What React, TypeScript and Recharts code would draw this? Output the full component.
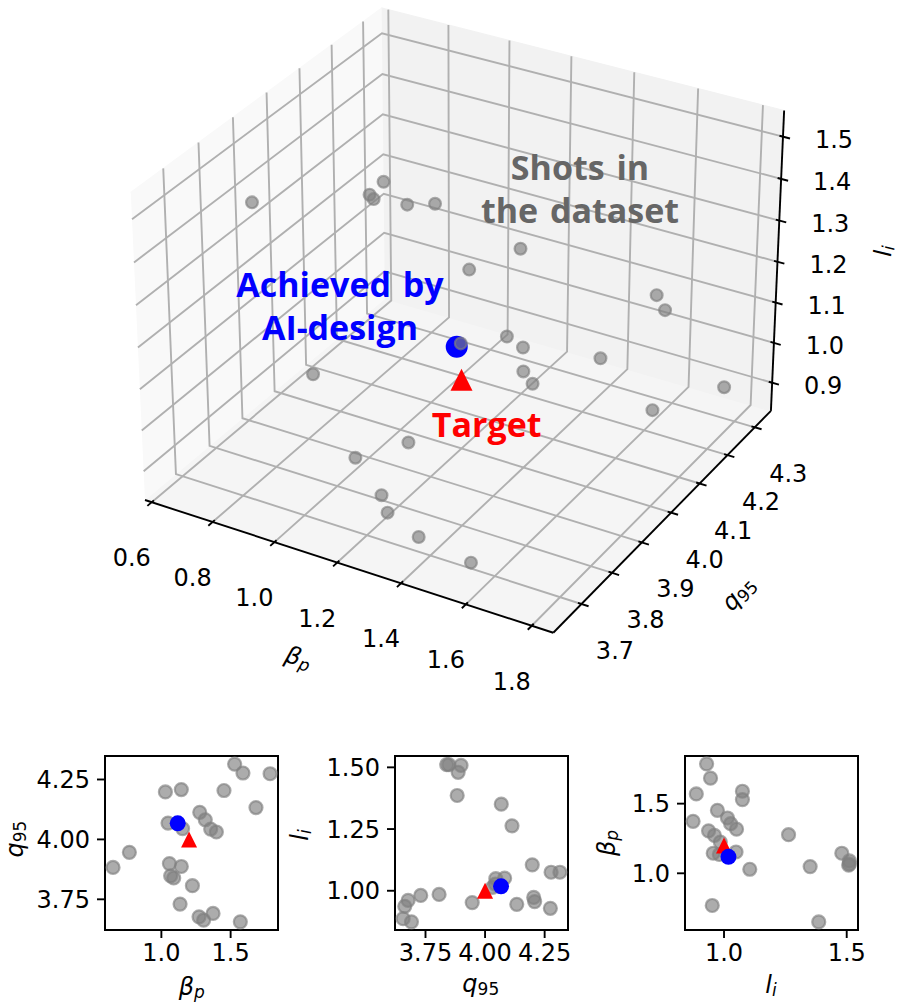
import React from 'react';
import { ScatterChart, Scatter, XAxis, YAxis, ReferenceArea } from 'recharts';

const BETA_P = [0.651, 0.769, 1.029, 1.144, 1.048, 1.277, 1.317, 1.356, 1.397, 1.452, 1.529, 1.589, 1.683, 1.785, 1.058, 1.144, 1.067, 1.089, 1.224, 1.135, 1.272, 1.305, 1.373, 1.570, 1.153];
const Q95 = [3.883, 3.946, 4.198, 4.208, 4.068, 4.113, 4.082, 4.043, 4.031, 4.204, 4.314, 4.277, 4.133, 4.274, 3.899, 3.887, 3.848, 3.839, 3.807, 3.730, 3.677, 3.663, 3.691, 3.656, 4.045];
const LI = [1.386, 0.952, 1.105, 0.956, 1.351, 1.263, 1.051, 1.027, 1.014, 0.973, 1.075, 1.075, 0.945, 0.929, 1.508, 1.480, 1.511, 1.511, 0.985, 0.981, 0.961, 0.937, 0.874, 0.887, 1.049];
const ACHIEVED = [1.118, 4.067, 1.018];
const TARGET = [1.2, 4.0, 1.0];

const BP_TICKS_3D = [0.6, 0.8, 1.0, 1.2, 1.4, 1.6, 1.8];
const Q_TICKS_3D = [3.7, 3.8, 3.9, 4.0, 4.1, 4.2, 4.3];
const LI_TICKS_3D = [0.9, 1.0, 1.1, 1.2, 1.3, 1.4, 1.5];

const BP_TICKS = [1.0, 1.5];
const Q_TICKS = [3.75, 4.0, 4.25];
const LI_TICKS_Y = [1.0, 1.25, 1.5];
const LI_TICKS_X = [1.0, 1.5];

// axis limits
const BP_LIM_3D = [0.5777, 1.8647];
const Q_LIM_3D = [3.6099, 4.3601];
const LI_LIM_3D = [0.8286, 1.5615];
const BP_LIM = [0.593, 1.842];
const Q_LIM = [3.622, 4.348];
const LI_LIM = [0.841, 1.546];

const SHOTS = BETA_P.map((bp, i) => ({ bp, q: Q95[i], li: LI[i] }));
const ACHIEVED_ROW = [{ bp: ACHIEVED[0], q: ACHIEVED[1], li: ACHIEVED[2] }];
const TARGET_ROW = [{ bp: TARGET[0], q: TARGET[1], li: TARGET[2] }];

// ---- 3D projection, same camera as matplotlib's default (elev 30, azim -60, box 4:4:3)
const BOX = [8 / 7, 8 / 7, 6 / 7];
const ELEV = 30;
const AZIM = -60;
const DIST = 10;
const er = (ELEV * Math.PI) / 180;
const ar = (AZIM * Math.PI) / 180;
const W = [Math.cos(er) * Math.cos(ar), Math.cos(er) * Math.sin(ar), Math.sin(er)];
const un = Math.hypot(W[0], W[1]);
const U = [-W[1] / un, W[0] / un, 0];
const V = [W[1] * U[2] - W[2] * U[1], W[2] * U[0] - W[0] * U[2], W[0] * U[1] - W[1] * U[0]];
const dot = (a: number[], b: number[]) => a[0] * b[0] + a[1] * b[1] + a[2] * b[2];

function project(bp: number, q: number, li: number) {
  const Q = [
    ((bp - BP_LIM_3D[0]) / (BP_LIM_3D[1] - BP_LIM_3D[0]) - 0.5) * BOX[0],
    ((q - Q_LIM_3D[0]) / (Q_LIM_3D[1] - Q_LIM_3D[0]) - 0.5) * BOX[1],
    ((li - LI_LIM_3D[0]) / (LI_LIM_3D[1] - LI_LIM_3D[0]) - 0.5) * BOX[2],
  ];
  const d = DIST - dot(W, Q);
  return { px: dot(U, Q) / d, py: dot(V, Q) / d, depth: d };
}
const toPt = (p: number[]) => {
  const r = project(p[0], p[1], p[2]);
  return { px: r.px, py: r.py };
};

// visible window of the projected plane
const PX_DOMAIN = [-0.113214, 0.106864];
const PY_DOMAIN = [-0.106033, 0.074719];

const [x0, x1] = BP_LIM_3D;
const [y0, y1] = Q_LIM_3D;
const [z0, z1] = LI_LIM_3D;

const PANES = [
  { fill: '#f5f5f5', pts: [[x0, y0, z0], [x1, y0, z0], [x1, y1, z0], [x0, y1, z0]] },
  { fill: '#f9f9f9', pts: [[x0, y0, z0], [x0, y1, z0], [x0, y1, z1], [x0, y0, z1]] },
  { fill: '#f2f2f2', pts: [[x0, y1, z0], [x1, y1, z0], [x1, y1, z1], [x0, y1, z1]] },
];
const GRID = [
  ...BP_TICKS_3D.map((t) => [[t, y0, z0], [t, y1, z0], [t, y1, z1]]),
  ...Q_TICKS_3D.map((t) => [[x1, t, z0], [x0, t, z0], [x0, t, z1]]),
  ...LI_TICKS_3D.map((t) => [[x0, y0, t], [x0, y1, t], [x1, y1, t]]),
];
const AXIS_LINES = [
  [[x0, y0, z0], [x1, y0, z0]],
  [[x1, y0, z0], [x1, y1, z0]],
  [[x1, y1, z0], [x1, y1, z1]],
];
const dX = (x1 - x0) / 12;
const dY = (y1 - y0) / 12;
const TICK_MARKS = [
  ...BP_TICKS_3D.map((t) => [[t, y0 + 0.1 * dY, z0], [t, y0 - 0.2 * dY, z0]]),
  ...Q_TICKS_3D.map((t) => [[x1 - 0.1 * dX, t, z0], [x1 + 0.2 * dX, t, z0]]),
  ...LI_TICKS_3D.map((t) => [[x1 - 0.1 * dX, y1, t], [x1 + 0.2 * dX, y1, t]]),
];

const BP_LABELS_3D = BP_TICKS_3D.map((t) => ({ ...toPt([t, y0, z0]), label: t.toFixed(1) }));
const Q_LABELS_3D = Q_TICKS_3D.map((t) => ({ ...toPt([x1, t, z0]), label: t.toFixed(1) }));
const LI_LABELS_3D = LI_TICKS_3D.map((t) => ({ ...toPt([x1, y1, t]), label: t.toFixed(1) }));

const SHOTS_3D = SHOTS.map((s) => project(s.bp, s.q, s.li)).sort((a, b) => b.depth - a.depth);
const ACHIEVED_3D = [toPt(ACHIEVED)];
const TARGET_3D = [toPt(TARGET)];

const FONT = 'DejaVu Sans';
const GRAY_ALPHA = 0.65;

const Nothing = () => <g />;

const tickText = (dx: number, dy: number) => (p: any) => (
  <text x={p.cx + dx} y={p.cy + dy} textAnchor="middle" dominantBaseline="central" fontFamily={FONT} fontSize={24} fill="#000">
    {p.payload.label}
  </text>
);

const grayDot = (r: number) => (p: any) => (
  <circle cx={p.cx} cy={p.cy} r={r} fill="gray" fillOpacity={GRAY_ALPHA} stroke="gray" strokeOpacity={GRAY_ALPHA} strokeWidth={2.2} />
);
const blueDot = (r: number) => (p: any) => <circle cx={p.cx} cy={p.cy} r={r} fill="#0000ff" />;
const redTri = (s: number) => (p: any) => (
  <path d={`M${p.cx},${p.cy - s / 2} L${p.cx + s / 2},${p.cy + s / 2} L${p.cx - s / 2},${p.cy + s / 2} Z`} fill="#ff0000" />
);

const lineSeries = (pts: number[][], key: string, style: any) => (
  <Scatter key={key} data={pts.map(toPt)} line={style} shape={Nothing} isAnimationActive={false} legendType="none" />
);

function Chart3D() {
  return (
    <ScatterChart width={901} height={740} margin={{ top: 0, right: 0, bottom: 0, left: 0 }}>
      <XAxis type="number" dataKey="px" domain={PX_DOMAIN} hide allowDataOverflow />
      <YAxis type="number" dataKey="py" domain={PY_DOMAIN} hide allowDataOverflow />
      {PANES.map((p, i) => lineSeries(p.pts, 'pane' + i, { stroke: p.fill, strokeWidth: 1, fill: p.fill }))}
      {GRID.map((g, i) => lineSeries(g, 'grid' + i, { stroke: '#b0b0b0', strokeWidth: 1.9, fill: 'none' }))}
      {AXIS_LINES.map((g, i) => lineSeries(g, 'axis' + i, { stroke: '#000', strokeWidth: 1.9, fill: 'none' }))}
      {TICK_MARKS.map((g, i) => lineSeries(g, 'tick' + i, { stroke: '#000', strokeWidth: 1.9, fill: 'none' }))}
      <Scatter data={BP_LABELS_3D} shape={tickText(-20, 56)} isAnimationActive={false} legendType="none" />
      <Scatter data={Q_LABELS_3D} shape={tickText(33.5, 47)} isAnimationActive={false} legendType="none" />
      <Scatter data={LI_LABELS_3D} shape={tickText(51, 3)} isAnimationActive={false} legendType="none" />
      <Scatter data={ACHIEVED_3D} shape={blueDot(11)} isAnimationActive={false} legendType="none" />
      <Scatter data={TARGET_3D} shape={redTri(22)} isAnimationActive={false} legendType="none" />
      <Scatter data={SHOTS_3D} shape={grayDot(5.9)} isAnimationActive={false} legendType="none" />
    </ScatterChart>
  );
}

const TICK_STYLE = { fontSize: 24, fill: '#000', fontFamily: FONT };

function Panel(props: {
  left: number;
  xKey: string;
  yKey: string;
  xLim: number[];
  yLim: number[];
  xTicks: number[];
  yTicks: number[];
  xDigits: number;
  yDigits: number;
}) {
  const { left, xKey, yKey, xLim, yLim, xTicks, yTicks, xDigits, yDigits } = props;
  return (
    <div style={{ position: 'absolute', left: left - 100, top: 745.7 }}>
      <ScatterChart width={293} height={244} margin={{ top: 10, right: 20, bottom: 0, left: 0 }}>
        <XAxis
          type="number"
          dataKey={xKey}
          domain={xLim}
          ticks={xTicks}
          interval={0}
          allowDataOverflow
          tickFormatter={(v: number) => v.toFixed(xDigits)}
          height={60}
          tickSize={8}
          tickMargin={6}
          axisLine={false}
          tickLine={{ stroke: '#000', strokeWidth: 1.9 }}
          tick={TICK_STYLE}
        />
        <YAxis
          type="number"
          dataKey={yKey}
          domain={yLim}
          ticks={yTicks}
          interval={0}
          allowDataOverflow
          tickFormatter={(v: number) => v.toFixed(yDigits)}
          width={100}
          tickSize={8}
          tickMargin={7}
          axisLine={false}
          tickLine={{ stroke: '#000', strokeWidth: 1.9 }}
          tick={TICK_STYLE}
        />
        <Scatter data={SHOTS} shape={grayDot(6.5)} isAnimationActive={false} legendType="none" />
        <Scatter data={TARGET_ROW} shape={redTri(16)} isAnimationActive={false} legendType="none" />
        <Scatter data={ACHIEVED_ROW} shape={blueDot(8)} isAnimationActive={false} legendType="none" />
        <ReferenceArea x1={xLim[0]} x2={xLim[1]} y1={yLim[0]} y2={yLim[1]} fill="none" stroke="#000" strokeWidth={2} ifOverflow="visible" />
      </ScatterChart>
    </div>
  );
}

function MathTitle(p: { x: number; y: number; rot?: number; main: string; sub: string; subItalic?: boolean }) {
  const { x, y, rot = 0, main, sub, subItalic = true } = p;
  return (
    <text
      x={x}
      y={y}
      transform={rot ? `rotate(${rot} ${x} ${y})` : undefined}
      textAnchor="middle"
      dominantBaseline="central"
      fontFamily={FONT}
      fontSize={24}
      fill="#000"
    >
      <tspan fontStyle="italic">{main}</tspan>
      <tspan fontSize={17} dy={5} fontStyle={subItalic ? 'italic' : 'normal'}>
        {sub}
      </tspan>
    </text>
  );
}

const NOTE = { fontFamily: 'Open Sans', fontWeight: 700, fontSize: 34, textAnchor: 'middle' as const };

export default function App() {
  return (
    <div style={{ position: 'absolute', left: 0, top: 0, width: 901, height: 1006, background: '#fff' }}>
      <div style={{ position: 'absolute', left: 0, top: 0 }}>
        <Chart3D />
      </div>
      <Panel left={105.3} xKey="bp" yKey="q" xLim={BP_LIM} yLim={Q_LIM} xTicks={BP_TICKS} yTicks={Q_TICKS} xDigits={1} yDigits={2} />
      <Panel left={395.3} xKey="q" yKey="li" xLim={Q_LIM} yLim={LI_LIM} xTicks={Q_TICKS} yTicks={LI_TICKS_Y} xDigits={2} yDigits={2} />
      <Panel left={685.3} xKey="li" yKey="bp" xLim={LI_LIM} yLim={BP_LIM} xTicks={LI_TICKS_X} yTicks={BP_TICKS} xDigits={1} yDigits={1} />
      <svg width={901} height={1006} style={{ position: 'absolute', left: 0, top: 0, pointerEvents: 'none' }}>
        <text x={340} y={296.7} fill="#0000ff" wordSpacing={3} {...NOTE}>Achieved by</text>
        <text x={340} y={340} fill="#0000ff" {...NOTE}>AI-design</text>
        <text x={580} y={180} fill="#666666" wordSpacing={3} {...NOTE}>Shots in</text>
        <text x={580} y={222.7} fill="#666666" wordSpacing={3} {...NOTE}>the dataset</text>
        <text x={486.7} y={436.7} fill="#ff0000" {...NOTE}>Target</text>

        <MathTitle x={298.4} y={657.7} rot={18} main="β" sub="p" />
        <MathTitle x={738.6} y={593.6} rot={-45.6} main="q" sub="95" subItalic={false} />
        <MathTitle x={883.2} y={250.9} rot={-87.4} main="l" sub="i" />

        <MathTitle x={191.7} y={986.5} main="β" sub="p" />
        <MathTitle x={15} y={839} rot={-90} main="q" sub="95" subItalic={false} />
        <MathTitle x={480.8} y={983.6} main="q" sub="95" subItalic={false} />
        <MathTitle x={299.9} y={835} rot={-90} main="l" sub="i" />
        <MathTitle x={771} y={985} main="l" sub="i" />
        <MathTitle x={606.5} y={843} rot={-90} main="β" sub="p" />
      </svg>
    </div>
  );
}
